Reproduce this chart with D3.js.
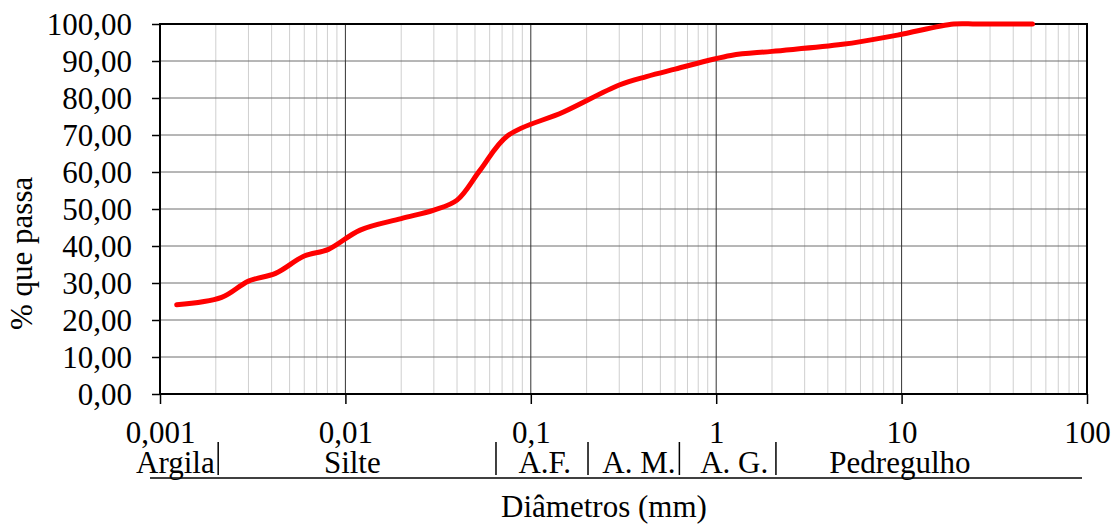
<!DOCTYPE html>
<html lang="pt">
<head>
<meta charset="UTF-8">
<title>Curva granulométrica</title>
<script src="https://cdnjs.cloudflare.com/ajax/libs/d3/7.8.5/d3.min.js"></script>
<style>
    body { margin: 0; background: #fff; }
    svg text { font-family: "Liberation Serif", "Times New Roman", serif; fill: #000; }
</style>
</head>
<body>
<div id="chart"></div>
<script>
    // diameters (mm) and percent passing
    const diametros = [0.00123, 0.00215, 0.003, 0.0042, 0.006, 0.0081, 0.012, 0.02, 0.03, 0.04,
        0.0533, 0.075, 0.15, 0.3, 0.42, 0.6, 1.2, 2.0, 4.8, 9.5, 19.1, 25.4, 50.8];
    const passante = [24.1, 26.1, 30.5, 32.6, 37.3, 39.1, 44.3, 47.4, 49.7, 52.4,
        60.5, 69.8, 76.2, 83.5, 85.8, 87.8, 91.5, 92.6, 94.5, 97.0, 100, 100, 100];

    const yTicks = [0, 10, 20, 30, 40, 50, 60, 70, 80, 90, 100];
    const xTicks = [0.001, 0.01, 0.1, 1, 10, 100];
    const xTickLabels = ["0,001", "0,01", "0,1", "1", "10", "100"];

    // soil classes along the bottom
    const classes = ["Argila", "Silte", "A.F.", "A. M.", "A. G.", "Pedregulho"];
    const classPos = [0.00121, 0.0109, 0.119, 0.383, 1.25, 9.8];   // label centre (mm)
    const classLimits = [0.00206, 0.0649, 0.2035, 0.633, 2.1];    // separator bars (mm)

    const W = 1114, H = 524;
    const margin = { left: 160, right: 27, top: 24, bottom: 130 };
    const fs = 31;

    const svg = d3.select("#chart").append("svg")
        .attr("width", W).attr("height", H);

    const x = d3.scaleLog().domain([0.001, 100]).range([margin.left, W - margin.right]);
    const y = d3.scaleLinear().domain([0, 100]).range([H - margin.bottom, margin.top]);

    const fmt = d3.format(".2f");

    // minor vertical grid
    const minor = [];
    for (let e = -3; e < 2; e++) {
        for (let k = 2; k <= 9; k++) minor.push(k * Math.pow(10, e));
    }
    svg.append("g").selectAll("line").data(minor).join("line")
        .attr("x1", d => x(d)).attr("x2", d => x(d))
        .attr("y1", y(0)).attr("y2", y(100))
        .attr("stroke", "#cfcfcf").attr("stroke-width", 1);

    // horizontal grid
    svg.append("g").selectAll("line").data(yTicks).join("line")
        .attr("x1", x(0.001)).attr("x2", x(100))
        .attr("y1", d => y(d)).attr("y2", d => y(d))
        .attr("stroke", "#6e6e6e").attr("stroke-width", 1);

    // decade lines
    svg.append("g").selectAll("line").data(xTicks.slice(1, -1)).join("line")
        .attr("x1", d => x(d)).attr("x2", d => x(d))
        .attr("y1", y(0)).attr("y2", y(100))
        .attr("stroke", "#333").attr("stroke-width", 1);

    // plot frame
    svg.append("rect")
        .attr("x", x(0.001)).attr("y", y(100))
        .attr("width", x(100) - x(0.001)).attr("height", y(0) - y(100))
        .attr("fill", "none").attr("stroke", "#000").attr("stroke-width", 2);

    // y axis
    const yAxis = d3.axisLeft(y).tickValues(yTicks).tickFormat(d => fmt(d).replace(".", ","))
        .tickSize(8).tickPadding(20);
    const gy = svg.append("g").attr("transform", `translate(${margin.left},0)`).call(yAxis);
    gy.select(".domain").remove();
    gy.selectAll("line").attr("stroke", "#000").attr("stroke-width", 1.5);
    gy.selectAll("text").attr("font-size", fs).attr("dy", "0.33em");

    // x axis
    const xAxis = d3.axisBottom(x).tickValues(xTicks).tickFormat((d, i) => xTickLabels[i])
        .tickSize(10).tickPadding(17);
    const gx = svg.append("g").attr("transform", `translate(0,${H - margin.bottom})`).call(xAxis);
    gx.select(".domain").remove();
    gx.selectAll("line").attr("stroke", "#000").attr("stroke-width", 1.5);
    gx.selectAll("text").attr("font-size", fs).attr("dy", "0.71em");

    // curve
    const line = d3.line()
        .x((d, i) => x(diametros[i]))
        .y(d => y(d))
        .curve(d3.curveCatmullRom.alpha(0.5));
    svg.append("path").datum(passante)
        .attr("d", line)
        .attr("fill", "none").attr("stroke", "#ff0000")
        .attr("stroke-width", 5).attr("stroke-linejoin", "round").attr("stroke-linecap", "round");

    // soil classification row
    const rowY = 473;
    svg.append("line")
        .attr("x1", 150).attr("x2", 1082)
        .attr("y1", 478).attr("y2", 478)
        .attr("stroke", "#000").attr("stroke-width", 1.5);
    svg.append("g").selectAll("line").data(classLimits).join("line")
        .attr("x1", d => x(d)).attr("x2", d => x(d))
        .attr("y1", 442).attr("y2", 475)
        .attr("stroke", "#000").attr("stroke-width", 1.5);
    svg.append("g").selectAll("text").data(classes).join("text")
        .attr("x", (d, i) => x(classPos[i]))
        .attr("y", rowY)
        .attr("text-anchor", "middle")
        .attr("font-size", fs)
        .text(d => d);

    // axis titles
    svg.append("text")
        .attr("x", 604).attr("y", 517)
        .attr("text-anchor", "middle").attr("font-size", fs)
        .text("Diâmetros (mm)");
    svg.append("text")
        .attr("transform", `translate(32,${y(38)}) rotate(-90)`)
        .attr("text-anchor", "middle").attr("font-size", fs)
        .text("% que passa");
</script>
</body>
</html>
